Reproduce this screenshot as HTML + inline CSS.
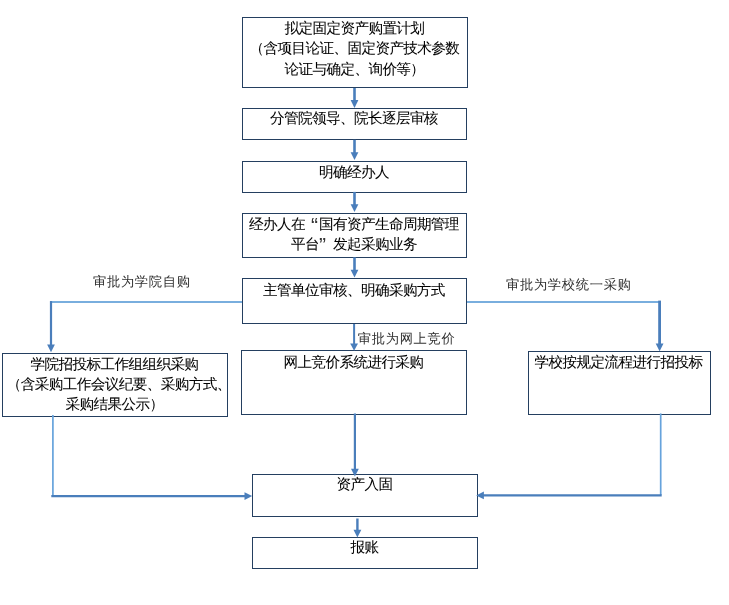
<!DOCTYPE html>
<html lang="zh-CN">
<head>
<meta charset="utf-8">
<title>固定资产采购流程</title>
<style>
html,body{margin:0;padding:0;background:#fff;}
body{width:729px;height:605px;position:relative;overflow:hidden;font-family:'Liberation Sans', 'WenQuanYi Zen Hei', 'Noto Sans CJK SC', sans-serif;font-size:14px;color:#000;-webkit-text-stroke:0.05px #000;}
svg{position:absolute;left:0;top:0;}
.b{position:absolute;box-sizing:border-box;border:1px solid #243F60;background:#fff;text-align:center;white-space:nowrap;}
.b p{margin:0;padding:0;position:relative;font-size:14.6px;letter-spacing:-0.6px;}
.l{position:absolute;white-space:nowrap;line-height:16px;color:#303030;-webkit-text-stroke:0;font-size:13.3px;letter-spacing:0.65px;}
.q1,.q2{display:inline-block;width:14px;height:14px;line-height:14px;font-size:21px;letter-spacing:0;vertical-align:top;position:relative;top:3.5px;color:#333;-webkit-text-stroke:0;will-change:transform;}
.q1{text-align:right;left:-0.8px;}
.q2{text-align:left;left:0;}
</style>
</head>
<body>
<div class="b" style="left:242px;top:17px;width:226px;height:71px"><p style="top:-0.5px;left:-0.6px;line-height:20.5px">拟定固定资产购置计划<br>（含项目论证、固定资产技术参数<br>论证与确定、询价等）</p></div>
<div class="b" style="left:242px;top:108px;width:225px;height:32px"><p style="top:-1px;left:-0.6px;line-height:20px">分管院领导、院长逐层审核</p></div>
<div class="b" style="left:242px;top:161px;width:225px;height:32px"><p style="top:0px;left:-0.6px;line-height:20px">明确经办人</p></div>
<div class="b" style="left:242px;top:213px;width:225px;height:45px"><p style="top:0px;left:-0.6px;line-height:20.3px">经办人在<span class="q1">“</span>国有资产生命周期管理<br>平台<span class="q2">”</span>发起采购业务</p></div>
<div class="b" style="left:242px;top:278px;width:225px;height:46px"><p style="top:0.7px;left:-0.6px;line-height:20px">主管单位审核、明确采购方式</p></div>
<div class="b" style="left:241px;top:350px;width:226px;height:65px"><p style="top:1.3px;left:-0.6px;line-height:20px">网上竞价系统进行采购</p></div>
<div class="b" style="left:2px;top:353px;width:226px;height:64px"><p style="top:0px;left:-0.6px;line-height:20px">学院招投标工作组组织采购<br><span style="position:relative;left:4.3px">（含采购工作会议纪要、采购方式、</span><br>采购结果公示）</p></div>
<div class="b" style="left:528px;top:351px;width:183px;height:64px"><p style="top:-0.5px;left:-1px;line-height:20px">学校按规定流程进行招投标</p></div>
<div class="b" style="left:252px;top:474px;width:226px;height:43px"><p style="top:-1px;left:-0.6px;line-height:20px">资产入固</p></div>
<div class="b" style="left:252px;top:537px;width:226px;height:32px"><p style="top:-1.5px;left:-0.6px;line-height:20px">报账</p></div>
<div class="l" style="left:93px;top:274px">审批为学院自购</div>
<div class="l" style="left:506px;top:276.5px">审批为学校统一采购</div>
<div class="l" style="left:357.8px;top:330.5px">审批为网上竞价</div>
<svg width="729" height="605" viewBox="0 0 729 605">
<path d="M354.5 88 V101" stroke="#4A7EBB" stroke-width="2.6" fill="none"/><path d="M350.6 100 L358.4 100 L354.5 108.1 Z" fill="#4A7EBB"/>
<path d="M354.5 139.8 V153.3" stroke="#4A7EBB" stroke-width="2.6" fill="none"/><path d="M350.6 152.3 L358.4 152.3 L354.5 160 Z" fill="#4A7EBB"/>
<path d="M354.5 191.9 V205.3" stroke="#4A7EBB" stroke-width="2.6" fill="none"/><path d="M350.6 204.3 L358.4 204.3 L354.5 212 Z" fill="#4A7EBB"/>
<path d="M354.5 257.3 V270.8" stroke="#4A7EBB" stroke-width="2.6" fill="none"/><path d="M350.6 269.8 L358.4 269.8 L354.5 277.5 Z" fill="#4A7EBB"/>
<path d="M354.1 324 V344.6" stroke="#4A7EBB" stroke-width="2" fill="none"/><path d="M350.2 343.6 L358 343.6 L354.1 350.8 Z" fill="#4A7EBB"/>
<path d="M354.9 413.5 V469.8" stroke="#4A7EBB" stroke-width="2.2" fill="none"/><path d="M351 468.8 L358.8 468.8 L354.9 476.5 Z" fill="#4A7EBB"/>
<path d="M357.4 518.5 V530.8" stroke="#4A7EBB" stroke-width="2.4" fill="none"/><path d="M353.5 529.8 L361.3 529.8 L357.4 537.5 Z" fill="#4A7EBB"/>
<path d="M242 302 H50" stroke="#79AEDE" stroke-width="1.8" fill="none"/>
<path d="M51 301.1 V345.6" stroke="#4A7EBB" stroke-width="2.2" fill="none"/><path d="M47.1 344.6 L54.9 344.6 L51 352.3 Z" fill="#4A7EBB"/>
<path d="M467 302 H660" stroke="#79AEDE" stroke-width="1.8" fill="none"/>
<path d="M659.6 300.6 V344.6" stroke="#4A7EBB" stroke-width="2.8" fill="none"/><path d="M655.7 343.6 L663.5 343.6 L659.6 351.3 Z" fill="#4A7EBB"/>
<path d="M52.9 415 V496" stroke="#66A3DC" stroke-width="1.7" fill="none"/>
<path d="M51.3 496.1 H245.5" stroke="#4A7EBB" stroke-width="2.4" fill="none"/><path d="M244.5 492.2 L244.5 500 L252.2 496.1 Z" fill="#4A7EBB"/>
<path d="M660.7 413.4 V495" stroke="#66A3DC" stroke-width="1.7" fill="none"/>
<path d="M661.7 495.4 H482.9" stroke="#4A7EBB" stroke-width="2.4" fill="none"/><path d="M483.9 491.5 L483.9 499.3 L476.2 495.4 Z" fill="#4A7EBB"/>
</svg>
</body>
</html>
